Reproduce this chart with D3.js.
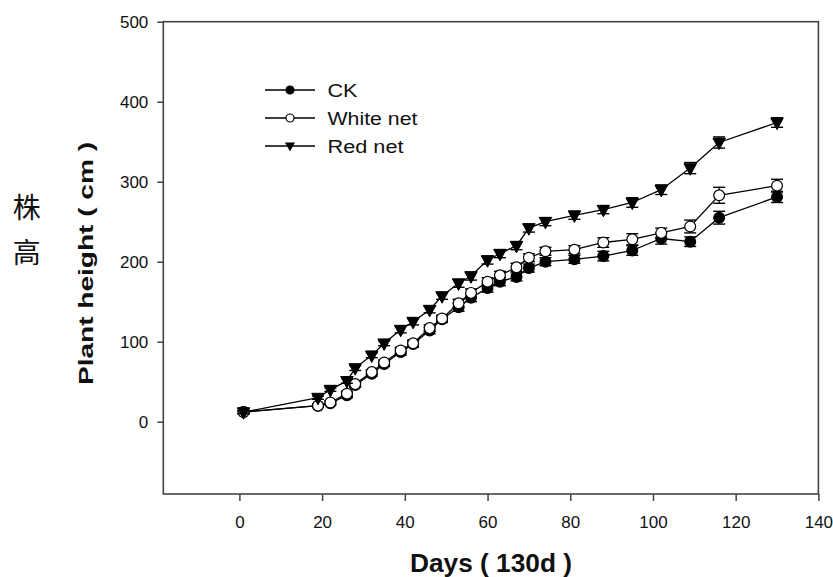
<!DOCTYPE html>
<html>
<head>
<meta charset="utf-8">
<script src="https://cdn.jsdelivr.net/npm/d3@7"></script>
<style>
  html, body { margin: 0; padding: 0; background: #fff; }
  svg { display: block; }
</style>
</head>
<body>
<svg id="chart" width="833" height="577"></svg>
<script>
// ---- data ----
const days = [1, 19, 22, 26, 28, 32, 35, 39, 42, 46, 49, 53, 56, 60, 63, 67, 70, 74, 81, 88, 95, 102, 109, 116, 130];
const ckValues    = [12, 20, 23, 33, 46, 60, 72, 87, 97, 114, 128, 143, 155, 167, 175, 181, 192, 200, 203, 207, 214, 229, 225, 255, 281];
const whiteValues = [12, 20, 24, 35, 47, 62, 74, 89, 98, 117, 129, 148, 161, 175, 183, 193, 205, 213, 215, 224, 228, 236, 244, 283, 295];
const redValues   = [12, 30, 40, 51, 67, 83, 98, 115, 125, 140, 157, 173, 182, 202, 210, 220, 242, 250, 258, 265, 274, 290, 317, 349, 374];
const ckErr    = [2, 2, 2, 3, 3, 3, 3, 4, 4, 4, 4, 5, 5, 5, 5, 5, 5, 5, 5, 6, 6, 7, 6, 8, 7];
const whiteErr = [2, 2, 2, 3, 3, 3, 3, 4, 4, 4, 4, 5, 5, 5, 5, 5, 5, 5, 5, 6, 7, 6, 8, 10, 8];
const redErr   = [2, 2, 2, 3, 3, 3, 3, 4, 4, 4, 4, 5, 5, 5, 5, 5, 5, 5, 5, 5, 6, 6, 7, 7, 6];
const seriesNames = ["CK", "White net", "Red net"];
const xTicks = [0, 20, 40, 60, 80, 100, 120, 140];
const yTicks = [0, 100, 200, 300, 400, 500];
const xTitle = "Days ( 130d )";
const yTitle = "Plant  height ( cm )";
const cnTitle = ["株", "高"];

// ---- layout ----
const svg = d3.select("#chart");
const L = 163.3, R = 818.4, T = 21.7, B = 494;
const x = d3.scaleLinear().domain([-18.4, 140]).range([L, R]);
const y = d3.scaleLinear().domain([-90.4, 500]).range([B, T]);
const axisColor = "#444";
const font = "Arial, 'Liberation Sans', sans-serif";

const series = [
  { name: seriesNames[0], vals: ckValues, err: ckErr, type: "circle", fill: "#000" },
  { name: seriesNames[1], vals: whiteValues, err: whiteErr, type: "circle", fill: "#fff" },
  { name: seriesNames[2], vals: redValues, err: redErr, type: "tri", fill: "#000" }
];

// axes
const gx = svg.append("g").attr("transform", `translate(0,${B})`)
  .call(d3.axisBottom(x).tickValues(xTicks).tickSize(7).tickPadding(15).tickSizeOuter(0));
const gy = svg.append("g").attr("transform", `translate(${L},0)`)
  .call(d3.axisLeft(y).tickValues(yTicks).tickSize(6).tickPadding(9).tickSizeOuter(0));
[gx, gy].forEach(g => {
  g.select(".domain").remove();
  g.selectAll(".tick line").attr("stroke", axisColor).attr("stroke-width", 1.5);
  g.selectAll(".tick text").attr("fill", "#111").style("font-family", font).style("font-size", "17px");
});

// frame
svg.append("rect").attr("x", L).attr("y", T).attr("width", R - L).attr("height", B - T)
  .attr("fill", "none").attr("stroke", axisColor).attr("stroke-width", 1.6);

const triPath = (w, h) => `M${-w/2},${-h*0.38}L${w/2},${-h*0.38}L0,${h*0.62}Z`;

const line = d3.line().x((d, i) => x(days[i])).y(d => y(d));

series.forEach(s => {
  const g = svg.append("g");
  g.append("path").datum(s.vals).attr("d", line)
    .attr("fill", "none").attr("stroke", "#000").attr("stroke-width", 1.3);
  // error bars
  s.vals.forEach((v, i) => {
    const cx = x(days[i]);
    const y1 = y(v + s.err[i]), y2 = y(v - s.err[i]);
    g.append("line").attr("x1", cx).attr("x2", cx).attr("y1", y1).attr("y2", y2)
      .attr("stroke", "#000").attr("stroke-width", 1.2);
    [y1, y2].forEach(yy => g.append("line").attr("x1", cx - 6).attr("x2", cx + 6)
      .attr("y1", yy).attr("y2", yy).attr("stroke", "#000").attr("stroke-width", 1.4));
  });
  // markers
  s.vals.forEach((v, i) => {
    const cx = x(days[i]), cy = y(v);
    if (s.type === "circle") {
      g.append("circle").attr("cx", cx).attr("cy", cy).attr("r", 5.4)
        .attr("fill", s.fill).attr("stroke", "#000").attr("stroke-width", 1.2);
    } else {
      g.append("path").attr("d", triPath(12.5, 11.5)).attr("transform", `translate(${cx},${cy})`)
        .attr("fill", "#000").attr("stroke", "#000").attr("stroke-width", 1);
    }
  });
});

// legend
const legRows = [90, 118, 146];
const legLens = [30, 90, 76];
series.forEach((s, i) => {
  const ly = legRows[i];
  svg.append("line").attr("x1", 265).attr("x2", 315).attr("y1", ly).attr("y2", ly)
    .attr("stroke", "#000").attr("stroke-width", 1.3);
  if (s.type === "circle") {
    svg.append("circle").attr("cx", 290).attr("cy", ly).attr("r", 4)
      .attr("fill", s.fill).attr("stroke", "#000").attr("stroke-width", 1.2);
  } else {
    svg.append("path").attr("d", triPath(10, 9)).attr("transform", `translate(290,${ly})`)
      .attr("fill", "#000");
  }
  svg.append("text").attr("x", 327.5).attr("y", ly + 6.5)
    .attr("textLength", legLens[i]).attr("lengthAdjust", "spacingAndGlyphs")
    .style("font-family", font).style("font-size", "18px").attr("fill", "#111")
    .text(s.name);
});

// titles
svg.append("text").attr("x", 491).attr("y", 572).attr("text-anchor", "middle")
  .attr("textLength", 162).attr("lengthAdjust", "spacingAndGlyphs")
  .style("font-family", font).style("font-size", "25px").style("font-weight", "bold")
  .attr("fill", "#111").text(xTitle);

svg.append("text").attr("transform", "translate(93.3,263.5) rotate(-90)")
  .attr("text-anchor", "middle")
  .attr("textLength", 243).attr("lengthAdjust", "spacingAndGlyphs")
  .style("font-family", font).style("font-size", "21px").style("font-weight", "bold")
  .attr("fill", "#111").text(yTitle);

const cnY = [205.5, 251];
cnTitle.forEach((c, i) => {
  svg.append("text").attr("x", 26.7).attr("y", cnY[i])
    .attr("text-anchor", "middle").attr("dominant-baseline", "central")
    .style("font-family", "'Noto Sans CJK SC', 'Noto Sans CJK TC', sans-serif")
    .style("font-size", "28px").attr("fill", "#111").text(c);
});
</script>
</body>
</html>
